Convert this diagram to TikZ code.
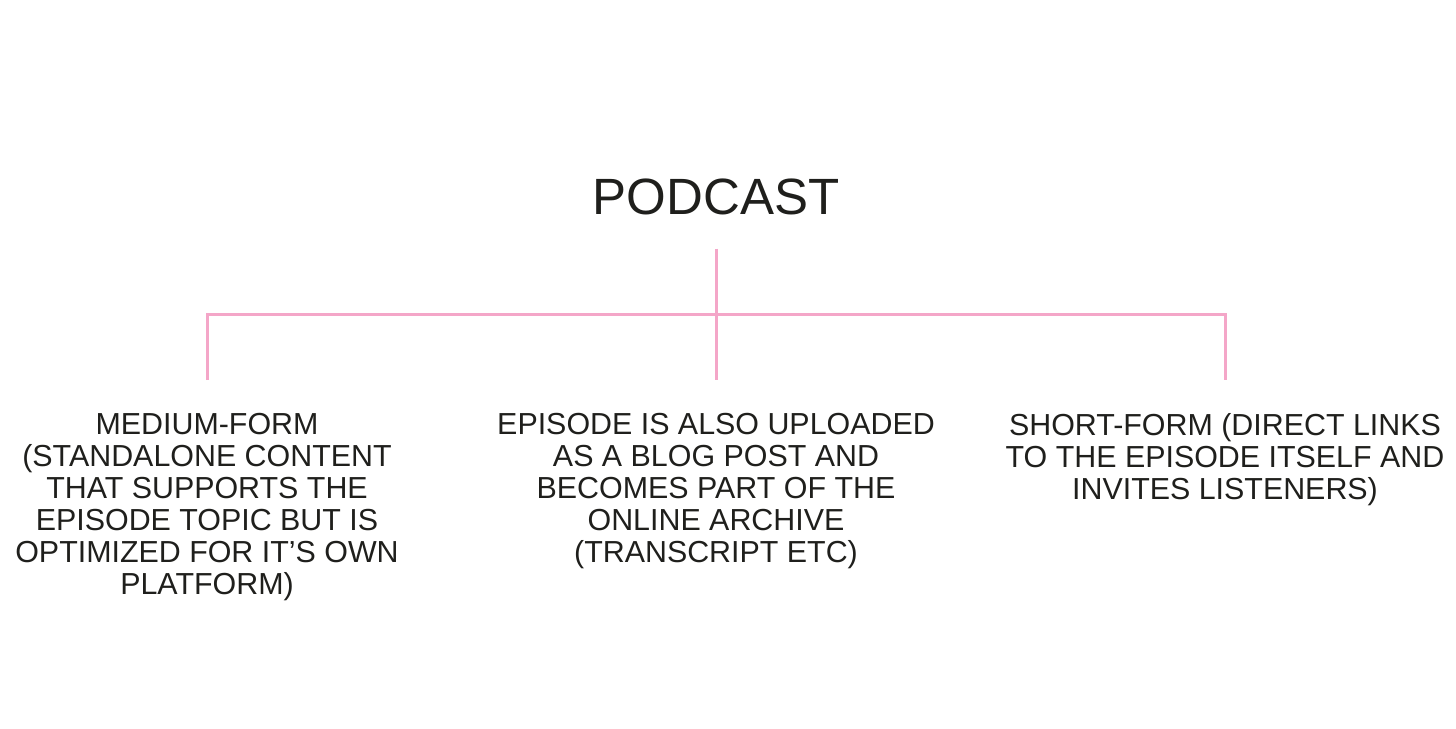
\documentclass[tikz,border=0pt]{standalone}
\usepackage{fontspec}
\setmainfont{Liberation Sans}
\definecolor{linkpink}{HTML}{F4A6C8}
\definecolor{inkdark}{HTML}{1F1F1C}
\tikzset{
  leaf/.style={anchor=north, align=center, inner sep=0pt, text=inkdark,
    font=\fontsize{30.4}{32}\selectfont},
  link/.style={draw=linkpink, line width=3pt}
}
\begin{document}
\begin{tikzpicture}[x=1pt, y=-1pt]
    \useasboundingbox (0,0) rectangle (1456,728);

    % Titel
    \node[anchor=base, inner sep=0pt, text=inkdark, font=\fontsize{51}{51}\selectfont]
        (podcast) at (716,214) {PODCAST};

    % Drei Zweige
    \node[leaf] (medium) at (207,413) {MEDIUM-FORM\\(STANDALONE CONTENT\\THAT SUPPORTS THE\\EPISODE TOPIC BUT IS\\OPTIMIZED FOR IT’S OWN\\PLATFORM)};
    \node[leaf] (archive) at (716,413) {EPISODE IS ALSO UPLOADED\\AS A BLOG POST AND\\BECOMES PART OF THE\\ONLINE ARCHIVE\\(TRANSCRIPT ETC)};
    \node[leaf] (short) at (1225,413) {SHORT-FORM (DIRECT LINKS\\TO THE EPISODE ITSELF AND\\INVITES LISTENERS)};

    \coordinate (hub) at (716,314);

    % Verbindungen
    \draw[link, shorten <=34pt, shorten >=33pt] (podcast.south) -- (archive.north);
    \draw[link, shorten <=33pt, shorten >=33pt] (medium.north) |- (hub) -| (short.north);
\end{tikzpicture}
\end{document}
